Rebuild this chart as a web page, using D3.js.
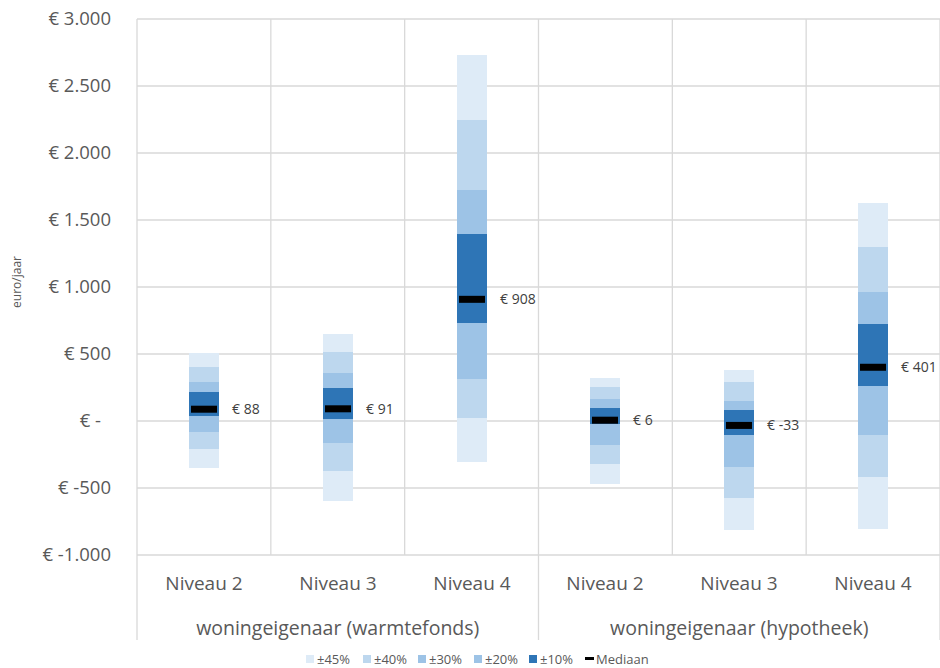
<!DOCTYPE html>
<html><head><meta charset="utf-8">
<script src="https://cdn.jsdelivr.net/npm/d3@7"></script>
<style>body{margin:0;background:#fff;}svg{display:block;font-family:"Open Sans",Lato,sans-serif;}</style>
</head><body><svg id="c" width="940" height="668"></svg>
<script>
const categories = ["Niveau 2","Niveau 3","Niveau 4","Niveau 2","Niveau 3","Niveau 4"];
const groups = ["woningeigenaar (warmtefonds)","woningeigenaar (hypotheek)"];
const median = [88, 91, 908, 6, -33, 401];
const low45 = [-353, -595, -304, -470, -813, -806];
const low40 = [-211, -373, 20, -321, -577, -420];
const low30 = [-80, -162, 316, -179, -346, -104];
const low20 = [-20, -75, 525, -100, -225, 80];
const low10 = [37, 12, 733, -25, -102, 261];
const high10 = [214, 249, 1396, 99, 80, 726];
const high20 = [255, 305, 1560, 130, 115, 845];
const high30 = [293, 361, 1724, 164, 152, 961];
const high40 = [405, 513, 2249, 251, 289, 1301];
const high45 = [505, 649, 2731, 318, 381, 1629];
const yTicks = [-1000,-500,0,500,1000,1500,2000,2500,3000];
const legendLabels = ["±45%","±40%","±30%","±20%","±10%","Mediaan"];
const colors = {"45":"#deebf7","40":"#bdd7ee","30":"#9dc3e6","20":"#9dc3e6","10":"#2e75b6"};

const svg = d3.select("#c");
const L = 137, R = 940, T = 19, B = 555;
const y = d3.scaleLinear().domain([-1000,3000]).range([B,T]);
const x = d3.scaleBand().domain(d3.range(categories.length)).range([L,R]);
const grid = "#d9d9d9", txt = "#595959";

svg.append("g").selectAll("line").data(yTicks).join("line")
  .attr("x1",L).attr("x2",R).attr("y1",d=>y(d)).attr("y2",d=>y(d))
  .attr("stroke",grid).attr("stroke-width",1.3);
svg.append("g").selectAll("line").data(d3.range(1,categories.length+1)).join("line")
  .attr("x1",d=>x(d-1)+x.bandwidth()).attr("x2",d=>x(d-1)+x.bandwidth())
  .attr("y1",T).attr("y2",d=> (d===3||d===6)?640:B)
  .attr("stroke",grid).attr("stroke-width",1.3);
svg.append("line").attr("x1",L).attr("x2",L).attr("y1",T).attr("y2",640).attr("stroke",grid).attr("stroke-width",1.3);

const fmt = d => d===0 ? "€ -" : "€ " + d3.format(",")(d).replace(/,/g,".").replace("−","-");
svg.append("g").selectAll("text").data(yTicks).join("text")
  .attr("x", d=> d===0 ? 101 : 111).attr("y",d=>y(d)).attr("dy","0.35em")
  .attr("text-anchor","end").attr("font-size",18.5).attr("fill",txt).text(fmt);
svg.append("text").attr("transform","translate(21,282) rotate(-90)").attr("text-anchor","middle")
  .attr("font-size",12).attr("fill",txt).text("euro/jaar");

const bw = 30;
categories.forEach((c,i)=>{
  const segs = [
    [low45[i],low40[i],"45"],[low40[i],low30[i],"40"],[low30[i],low20[i],"30"],[low20[i],low10[i],"20"],
    [low10[i],high10[i],"10"],[high10[i],high20[i],"20"],[high20[i],high30[i],"30"],
    [high30[i],high40[i],"40"],[high40[i],high45[i],"45"]];
  const cx = Math.round(x(i)+x.bandwidth()/2);
  svg.append("g").attr("shape-rendering","crispEdges").selectAll("rect").data(segs).join("rect")
    .attr("x",cx-bw/2).attr("width",bw)
    .attr("y",d=>Math.round(y(d[1]))).attr("height",d=>Math.round(y(d[0]))-Math.round(y(d[1])))
    .attr("fill",d=>colors[d[2]]);
  svg.append("rect").attr("x",cx-13).attr("width",26).attr("y",y(median[i])-3.5).attr("height",7).attr("fill","#000");
  svg.append("text").attr("x",cx+28).attr("y",y(median[i])).attr("dy","0.35em")
    .attr("font-size",14).attr("fill","#404040").text("€ " + median[i]);
  svg.append("text").attr("x",cx).attr("y",583).attr("dy","0.35em").attr("text-anchor","middle")
    .attr("font-size",19).attr("fill",txt).text(c);
});
groups.forEach((g,j)=>{
  const cx = x(j*3+1)+x.bandwidth()/2;
  svg.append("text").attr("x",cx).attr("y",628).attr("dy","0.35em").attr("text-anchor","middle")
    .attr("font-size",19.5).attr("fill",txt).text(g);
});

const lx = [306,363,418,474,529,585];
const lk = ["45","40","30","20","10"];
legendLabels.forEach((lab,i)=>{
  if(i<5){
    svg.append("rect").attr("x",lx[i]).attr("y",655).attr("width",8).attr("height",8).attr("fill",colors[lk[i]]);
  } else {
    svg.append("rect").attr("x",lx[i]).attr("y",657).attr("width",9).attr("height",3).attr("fill","#000");
  }
  svg.append("text").attr("x",lx[i]+11).attr("y",659).attr("dy","0.35em").attr("font-size",13).attr("fill",txt).text(lab);
});
</script></body></html>
